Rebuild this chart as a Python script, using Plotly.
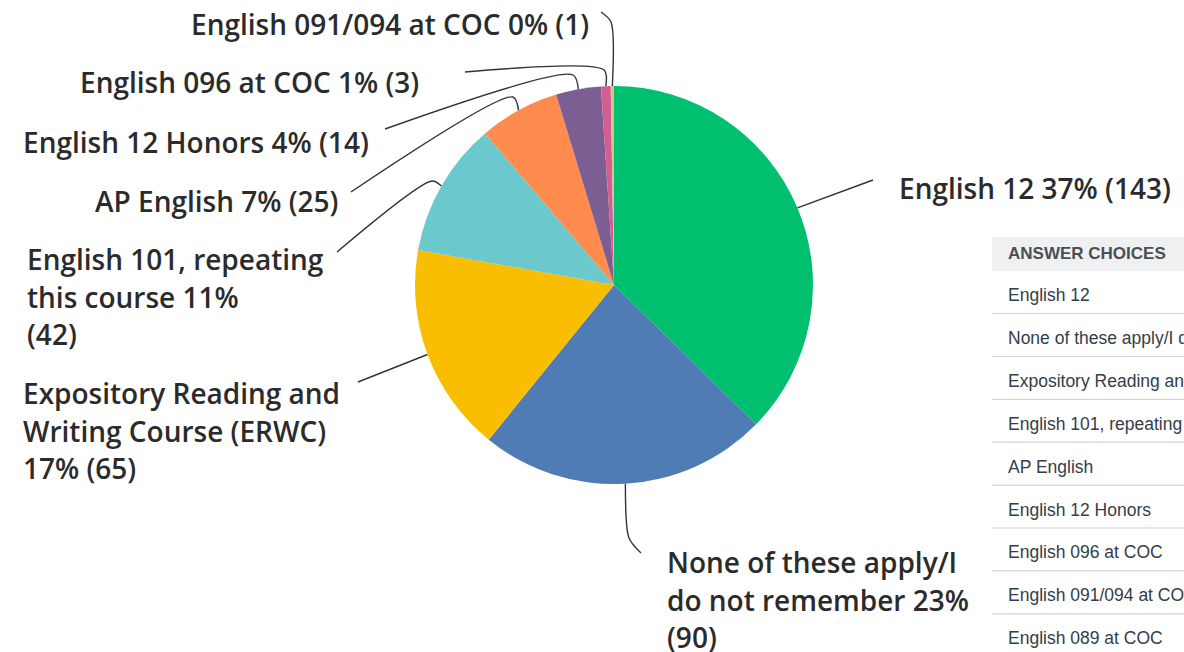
import math
import plotly.graph_objects as go

# ---------------- data ----------------
categories = [
    "English 12",
    "None of these apply/I do not remember",
    "Expository Reading and Writing Course (ERWC)",
    "English 101, repeating this course",
    "AP English",
    "English 12 Honors",
    "English 096 at COC",
    "English 091/094 at COC",
    "English 089 at COC",
]
responses = [143, 90, 65, 42, 25, 14, 3, 1, 0]

label_templates = [
    "English 12 {p}% ({n})",
    "None of these apply/I|do not remember {p}%|({n})",
    "Expository Reading and|Writing Course (ERWC)|{p}% ({n})",
    "English 101, repeating|this course {p}%|({n})",
    "AP English {p}% ({n})",
    "English 12 Honors {p}% ({n})",
    "English 096 at COC {p}% ({n})",
    "English 091/094 at COC {p}% ({n})",
]

table_header = "ANSWER CHOICES"
table_rows = [
    "English 12",
    "None of these apply/I do not remember",
    "Expository Reading and Writing Course (ERWC)",
    "English 101, repeating this course",
    "AP English",
    "English 12 Honors",
    "English 096 at COC",
    "English 091/094 at COC",
    "English 089 at COC",
]

# ---------------- styles / layout ----------------
W, H = 1184, 652
colors = ["#00bf6f", "#507cb6", "#f9be00", "#6bc8cd", "#ff8b4f",
          "#7d5e92", "#d25f90", "#dbc08e"]
CX, CY, R = 614, 285, 199  # pie centre / radius in pixels

# label placement: (x px, first-line y px, anchor)
label_pos = [
    (897, 188, "left"),
    (665, 562, "left"),
    (21, 393, "left"),
    (25, 259, "left"),
    (340, 201, "right"),
    (371, 142, "right"),
    (421, 82, "right"),
    (591, 24, "right"),
]
line_step = 37.5
# connector bend points and end points (pixels)
conn_mid = [None, (629, 538), None, (432, 181), (513, 97), (573, 75), (604, 70), (611, 22)]
conn_end = [(873, 180), (641, 553), (358, 382), (337, 252), (351, 192), (385, 129), (465, 72), (601, 12)]

LABEL_FONT = dict(family="Open Sans", size=28, color="#2b2b2b", weight=600)
TABLE_FONT = dict(family="Liberation Sans, Arial", size=17.5, color="#333e48")


def px(x):
    return x / W


def py(y):
    return 1 - y / H


vals = responses[:8]
total = sum(responses)

fig = go.Figure()
fig.add_trace(go.Pie(
    labels=categories[:8], values=vals, sort=False, direction="clockwise",
    rotation=0, textinfo="none", showlegend=False,
    marker=dict(colors=colors, line=dict(width=0)),
    domain=dict(x=[px(CX - R), px(CX + R)], y=[py(CY + R), py(CY - R)]),
))

annotations = []
cum = 0
for i, v in enumerate(vals):
    mid = (cum + v / 2) / total * 2 * math.pi
    cum += v
    sx = CX + R * math.sin(mid)
    sy = CY - R * math.cos(mid)
    xs, ys = [sx], [sy]
    if conn_mid[i] is not None:
        xs.append(conn_mid[i][0]); ys.append(conn_mid[i][1])
    xs.append(conn_end[i][0]); ys.append(conn_end[i][1])
    fig.add_trace(go.Scatter(
        x=xs, y=ys, mode="lines", hoverinfo="skip", showlegend=False,
        line=dict(color="#333333", width=1.4, shape="spline", smoothing=0.8),
        xaxis="x", yaxis="y"))
    pct = round(v / total * 100)
    lines = label_templates[i].format(p=pct, n=v).split("|")
    lx, ly, anc = label_pos[i]
    for k, t in enumerate(lines):
        annotations.append(dict(
            text=t, x=px(lx), y=py(ly + k * line_step), xref="paper", yref="paper",
            xanchor=anc, yanchor="middle", showarrow=False, font=LABEL_FONT))

# ---------------- table (partially visible) ----------------
TX0 = 992
shapes = [dict(type="rect", xref="paper", yref="paper",
               x0=px(TX0), x1=px(W + 5), y0=py(271), y1=py(237),
               fillcolor="#eff0f1", line=dict(width=0), layer="below")]
annotations.append(dict(text=table_header, x=px(TX0 + 14), y=py(254), xref="paper",
                        yref="paper", xanchor="left", yanchor="middle", showarrow=False,
                        font=dict(family="Liberation Sans, Arial", size=17,
                                  color="#4a4f55", weight="bold")))
row_step = 42.9
for j, r in enumerate(table_rows):
    cy = 295 + j * row_step
    annotations.append(dict(text=r, x=px(TX0 + 14), y=py(cy), xref="paper", yref="paper",
                            xanchor="left", yanchor="middle", showarrow=False,
                            font=TABLE_FONT))
    if j < len(table_rows) - 1:
        ly = 313.5 + j * row_step
        shapes.append(dict(type="line", xref="paper", yref="paper",
                           x0=px(TX0), x1=px(W + 5), y0=py(ly), y1=py(ly),
                           line=dict(color="#d3d5d7", width=1.2)))

fig.update_layout(
    width=W, height=H, margin=dict(l=0, r=0, t=0, b=0),
    paper_bgcolor="white", plot_bgcolor="rgba(0,0,0,0)",
    xaxis=dict(range=[0, W], visible=False, domain=[0, 1], fixedrange=True),
    yaxis=dict(range=[H, 0], visible=False, domain=[0, 1], fixedrange=True),
    annotations=annotations, shapes=shapes,
)

fig.write_html("out.html", config={"displayModeBar": False},
               post_script="document.body.style.margin='0';document.body.style.overflow='hidden';")
